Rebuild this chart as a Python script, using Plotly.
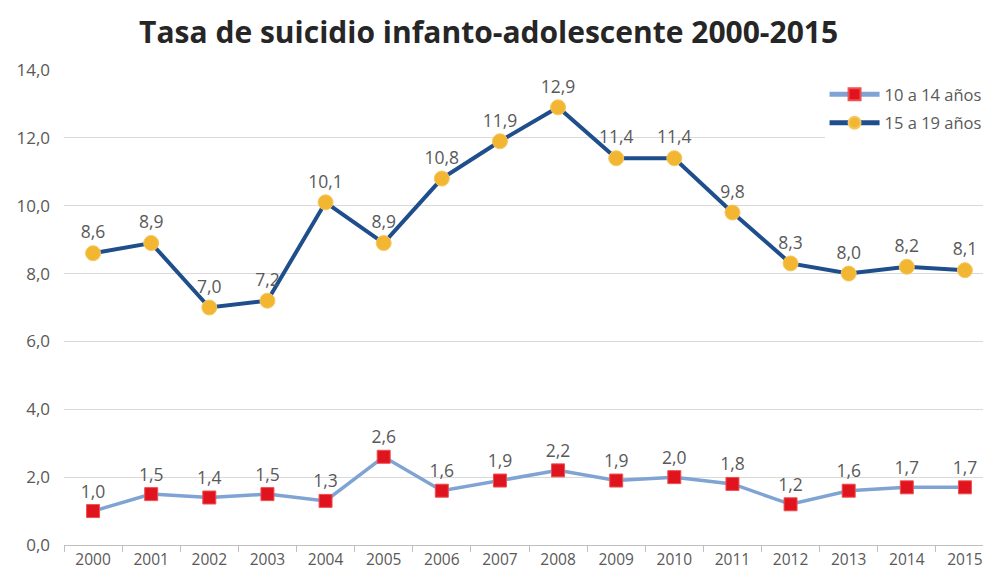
import plotly.graph_objects as go

years = [str(y) for y in range(2000, 2016)]
tasa_10_14 = [1.0, 1.5, 1.4, 1.5, 1.3, 2.6, 1.6, 1.9, 2.2, 1.9, 2.0, 1.8, 1.2, 1.6, 1.7, 1.7]
tasa_15_19 = [8.6, 8.9, 7.0, 7.2, 10.1, 8.9, 10.8, 11.9, 12.9, 11.4, 11.4, 9.8, 8.3, 8.0, 8.2, 8.1]

FONT = "Open Sans, sans-serif"

fig = go.Figure()
fig.add_trace(go.Scatter(
    x=years, y=tasa_10_14, name="10 a 14 años", mode="lines+markers+text",
    legendgroup="a",
    line=dict(color="#7FA3D3", width=3.5),
    marker=dict(symbol="square", size=13, color="#E0141E", line=dict(color="#F05050", width=1)),
    texttemplate="%{y:.1f}", textposition="top center",
    textfont=dict(family=FONT, size=17.5, color="#595959"),
))
fig.add_trace(go.Scatter(
    x=years, y=tasa_15_19, name="15 a 19 años", mode="lines+markers+text",
    legendgroup="b",
    line=dict(color="#1F4E8C", width=4),
    marker=dict(symbol="circle", size=15, color="#F2B632", line=dict(color="#F5C860", width=1)),
    texttemplate="%{y:.1f}", textposition="top center",
    textfont=dict(family=FONT, size=17.5, color="#595959"),
))

fig.update_layout(
    width=991, height=575,
    margin=dict(l=56, r=5, t=62, b=38, autoexpand=False),
    paper_bgcolor="white", plot_bgcolor="white",
    separators=",.",
    title=dict(text="<b>Tasa de suicidio infanto-adolescente 2000-2015</b>",
               x=0.485, xanchor="center", y=0.958, yanchor="middle",
               font=dict(family=FONT, size=30, color="#262626")),
    showlegend=True,
    legend=dict(x=0.992, xanchor="right", y=0.985, yanchor="top",
                borderwidth=0, bgcolor="white",
                font=dict(family=FONT, size=16.5, color="#595959"),
                itemsizing="constant", itemwidth=50,
                tracegroupgap=4),
    xaxis=dict(type="category", range=[-0.5, 15.5], showgrid=False, showline=True,
               linecolor="#BFBFBF", automargin=False,
               ticks="outside", tickson="boundaries", tickcolor="#BFBFBF", ticklen=6,
               tickfont=dict(family=FONT, size=15.5, color="#595959")),
    yaxis=dict(range=[0, 14], dtick=2, tickformat=".1f", showgrid=True, gridcolor="#D9D9D9",
               automargin=False,
               zeroline=False, ticks="", ticklabelstandoff=13,
               tickfont=dict(family=FONT, size=17, color="#595959")),
)

fig.write_html("out.html")
